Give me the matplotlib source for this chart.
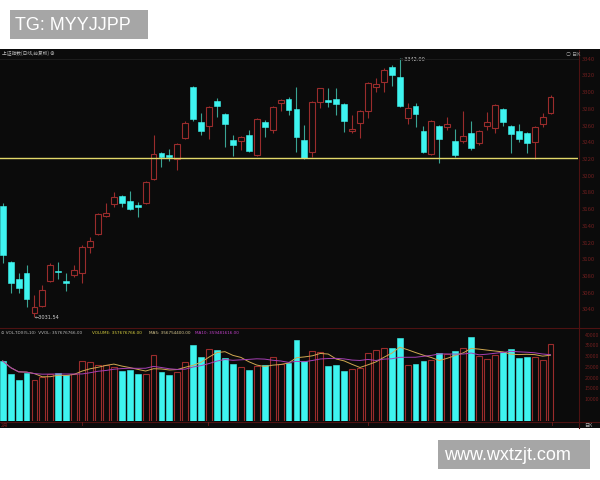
import matplotlib
matplotlib.use("Agg")
import matplotlib.pyplot as plt
import pandas as pd
from matplotlib.patches import Rectangle
from matplotlib.lines import Line2D

# daily candles (oldest -> newest)
opens = [3164, 3097, 3077, 3084, 3036, 3045, 3075, 3087, 3075, 3082,
         3084, 3115, 3131, 3152, 3167, 3176, 3170, 3166, 3168, 3197,
         3228, 3225, 3221, 3246, 3307, 3265, 3260, 3290, 3274, 3243,
         3242, 3249, 3225, 3265, 3255, 3288, 3292, 3280, 3243, 3229,
         3289, 3291, 3292, 3286, 3254, 3264, 3278, 3307, 3313, 3331,
         3319, 3270, 3284, 3254, 3227, 3260, 3259, 3242, 3242, 3252,
         3240, 3260, 3258, 3280, 3260, 3254, 3252, 3241, 3262, 3276]
highs = [3168, 3099, 3084, 3094, 3058, 3070, 3096, 3097, 3084, 3094,
         3118, 3127, 3156, 3168, 3181, 3177, 3182, 3169, 3194, 3249,
         3229, 3233, 3240, 3266, 3308, 3276, 3284, 3294, 3276, 3249,
         3248, 3255, 3270, 3267, 3284, 3292, 3295, 3307, 3261, 3290,
         3306, 3305, 3305, 3288, 3273, 3279, 3313, 3317, 3329, 3333,
         3342, 3288, 3288, 3260, 3267, 3261, 3271, 3257, 3278, 3266,
         3255, 3277, 3286, 3282, 3261, 3262, 3253, 3260, 3276, 3297]
lows = [3096, 3060, 3060, 3044, 3031.54, 3043, 3073, 3077, 3063, 3080,
        3072, 3108, 3130, 3151, 3163, 3163, 3159, 3151, 3167, 3195,
        3211, 3218, 3207, 3244, 3266, 3249, 3245, 3271, 3235, 3224,
        3231, 3229, 3224, 3247, 3252, 3278, 3273, 3229, 3221, 3223,
        3282, 3283, 3273, 3253, 3252, 3246, 3270, 3301, 3301, 3308,
        3283, 3262, 3259, 3228, 3225, 3216, 3255, 3223, 3240, 3231,
        3237, 3255, 3252, 3260, 3228, 3241, 3228, 3221, 3259, 3275]
closes = [3106, 3072, 3066, 3053, 3044, 3064, 3094, 3085, 3072, 3088,
          3115, 3122, 3155, 3156, 3175, 3168, 3161, 3163, 3193, 3227,
          3223, 3223, 3238, 3264, 3268, 3254, 3283, 3284, 3262, 3237,
          3247, 3230, 3269, 3259, 3283, 3291, 3279, 3247, 3222, 3289,
          3305, 3289, 3286, 3266, 3256, 3278, 3311, 3310, 3327, 3321,
          3284, 3282, 3274, 3229, 3266, 3245, 3262, 3225, 3248, 3234,
          3254, 3265, 3285, 3265, 3251, 3245, 3240, 3259, 3271, 3295]
# volume, millions of shares
volumes = [280, 218, 190, 224, 193, 205, 221, 225, 216, 221,
           281, 274, 260, 260, 252, 235, 239, 218, 221, 306,
           229, 215, 229, 274, 353, 299, 337, 333, 294, 267,
           252, 236, 255, 260, 299, 267, 271, 379, 278, 325,
           322, 257, 263, 235, 244, 249, 319, 330, 342, 341,
           389, 260, 264, 280, 286, 319, 314, 327, 342, 390,
           303, 291, 306, 322, 336, 294, 297, 299, 286, 358]

price_ticks = list(range(3340, 3020, -20))
vol_ticks = [400, 350, 300, 250, 200, 150, 100]
vol_tick_labels = ["40000", "35000", "30000", "25000", "20000", "15000", "10000"]
support_level = 3222
high_idx, high_text = 50, "3342.00"
low_idx, low_text = 4, "3031.54"
chart_title = "上证指数(日线,前复权) ⊕"
vol_header = [("⊙ VOL-TDX(5,10)  VVOL: 357676766.00", "#bdbdbd"),
              ("VOLUME: 357676766.00", "#d8d040"),
              ("MA5: 356754400.00", "#d8c890"),
              ("MA10: 359481616.00", "#c040c8")]

plt.rcParams['font.family'] = ['Noto Sans CJK SC', 'DejaVu Sans']

BG = '#0b0b0b'
UP = '#9a2c2c'
DOWN = '#3ef4f0'
DOWN_WICK = '#3aa494'
AXIS_RED = '#4e1212'
LABEL_RED = '#6e1e1e'

W, H = 600, 480
fig = plt.figure(figsize=(6, 4.8), dpi=100, facecolor='white')


def box(x0, y0, x1, y1):
    # pixel box (top-left origin) -> figure fraction rect
    return [x0 / W, 1 - y1 / H, (x1 - x0) / W, (y1 - y0) / H]


def px(x, y):
    return x / W, 1 - y / H


# black terminal background
fig.add_artist(Rectangle(px(0, 428), 1, 379 / H, transform=fig.transFigure,
                         facecolor=BG, edgecolor='none', zorder=0))

n = len(opens)
xs = list(range(n))
xlim = (-0.34, 72.46)
bw = 0.74

# ---- price panel
ax = fig.add_axes(box(0, 50, 578, 326))
ax.set_xlim(*xlim)
ax.set_ylim(3020.8, 3351.0)
ax.axis('off')
for i in xs:
    o, h, l, c = opens[i], highs[i], lows[i], closes[i]
    up = c >= o
    ax.vlines(i, l, h, color=UP if up else DOWN_WICK, lw=0.8, zorder=2)
    lo, hgt = min(o, c), max(abs(c - o), 0.8)
    if up:
        ax.add_patch(Rectangle((i - bw / 2, lo), bw, hgt, facecolor=BG,
                               edgecolor=UP, lw=0.8, zorder=3))
    else:
        ax.add_patch(Rectangle((i - bw / 2, lo), bw, hgt, facecolor=DOWN,
                               edgecolor=DOWN, lw=0.4, zorder=3))
ax.axhline(support_level, color='#e2d86a', lw=1.0, zorder=4)
ax.text(high_idx + 0.1, highs[high_idx] - 2, "←" + high_text, color='#d0d0d0',
        fontsize=3.6, va='center', ha='left', family=['DejaVu Sans'])
ax.text(low_idx, lows[low_idx] - 1, "←" + low_text, color='#d0d0d0',
        fontsize=3.6, va='center', ha='left', family=['DejaVu Sans'])
for p in price_ticks:
    ax.text(1.007, p, str(p), transform=ax.get_yaxis_transform(), color=LABEL_RED,
            fontsize=4.3, va='center', ha='left', clip_on=False)

# ---- volume panel
axv = fig.add_axes(box(0, 329, 578, 421))
axv.set_xlim(*xlim)
axv.set_ylim(0, 429)
axv.axis('off')
for i in xs:
    up = closes[i] >= opens[i]
    if up:
        axv.add_patch(Rectangle((i - bw / 2, 0), bw, volumes[i], facecolor=BG,
                                edgecolor=UP, lw=0.8, zorder=3))
    else:
        axv.add_patch(Rectangle((i - bw / 2, 0), bw, volumes[i], facecolor=DOWN,
                                edgecolor=DOWN, lw=0.4, zorder=3))
vol = pd.Series(volumes)
axv.plot(xs, vol.rolling(5, min_periods=1).mean(), color='#d0a850', lw=0.7, zorder=4)
axv.plot(xs, vol.rolling(10, min_periods=1).mean(), color='#a640b4', lw=0.7, zorder=4)
for v, lab in zip(vol_ticks, vol_tick_labels):
    axv.text(1.012, v, lab, transform=axv.get_yaxis_transform(), color=LABEL_RED,
             fontsize=3.8, va='center', ha='left', clip_on=False)

# ---- frame lines
for (x0, y0, x1, y1) in [(579, 50, 579, 428), (0, 327.5, 600, 327.5),
                         (0, 421.5, 600, 421.5)]:
    fig.add_artist(Line2D([x0 / W, x1 / W], [1 - y0 / H, 1 - y1 / H],
                          transform=fig.transFigure, color=AXIS_RED, lw=0.8, zorder=1))
fig.add_artist(Line2D([0, 578 / W], [1 - 58.5 / H, 1 - 58.5 / H],
                      transform=fig.transFigure, color='#1c1c1c', lw=0.8, zorder=1))
for tx in [82, 208, 368, 552]:
    fig.add_artist(Line2D([tx / W, tx / W], [1 - 421.5 / H, 1 - 425 / H],
                          transform=fig.transFigure, color=LABEL_RED, lw=0.6))

# ---- texts
fig.text(*px(2, 53.5), chart_title, color='#bcbcbc', fontsize=3.4, va='center', ha='left')
fig.text(*px(566, 54), "○ 日K", color='#9a9a9a', fontsize=3.6, va='center', ha='left')
fig.text(*px(584, 425.5), "日K", color='#b0b0b0', fontsize=3.6, va='center', ha='left')
fig.text(*px(1, 425.5), "2月", color=LABEL_RED, fontsize=3.6, va='center', ha='left')
hx = [1, 92, 149, 195]
for (txt, col), x0 in zip(vol_header, hx):
    fig.text(*px(x0, 333), txt, color=col, fontsize=3.0, va='center', ha='left',
             family=['DejaVu Sans'])

# ---- watermark boxes
fig.add_artist(Rectangle(px(10, 39), 138 / W, 29 / H, transform=fig.transFigure,
                         facecolor='#a6a6a6', edgecolor='none'))
fig.text(*px(15, 25), "TG: MYYJJPP", color='white', fontsize=13,
         family=['Liberation Sans'], va='center', ha='left')
fig.add_artist(Rectangle(px(438, 469), 152 / W, 29 / H, transform=fig.transFigure,
                         facecolor='#a6a6a6', edgecolor='none'))
fig.text(*px(444, 455), "www.wxtzjt.com", color='white', fontsize=13,
         family=['Liberation Sans'], va='center', ha='left')

fig.savefig("out.png", dpi=100, facecolor='white')
